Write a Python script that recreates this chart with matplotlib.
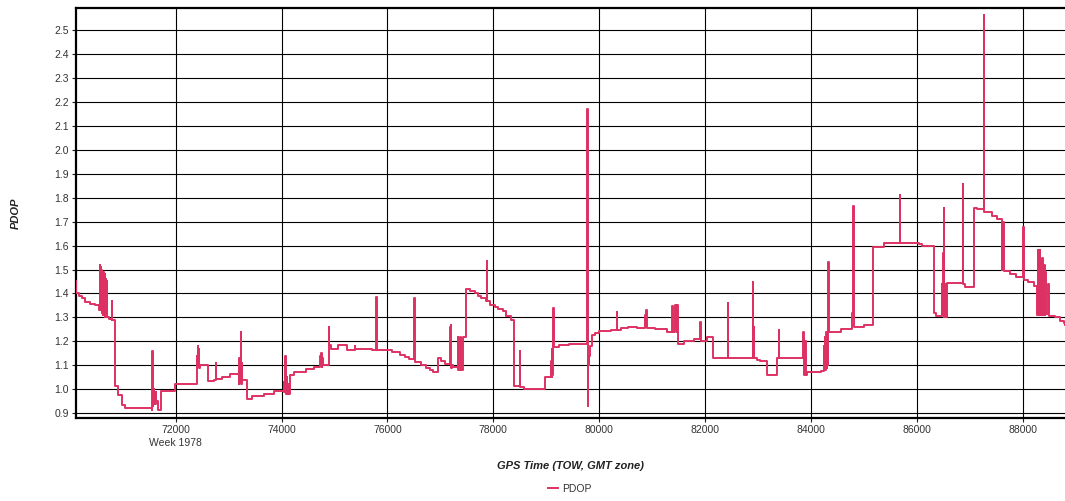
import matplotlib
matplotlib.use("Agg")
import matplotlib.pyplot as plt
from matplotlib.ticker import FixedLocator

plt.rcParams["font.family"] = ["Liberation Sans", "DejaVu Sans"]

# GPS time of week (s) and PDOP (step series)
TIME = [
    70117, 70125, 70180, 70230, 70293, 70382, 70482, 70545,
    70558, 70566, 70574, 70580, 70588, 70594, 70602, 70608, 70616, 70622,
    70630, 70636, 70644, 70650, 70658, 70664, 70672, 70680, 70690, 70700,
    70708, 70716, 70747, 70790, 70797, 70806, 70854, 70917, 70980, 71043,
    71553, 71560, 71566, 71572, 71578, 71585, 71597, 71629, 71636, 71660,
    71724, 71994, 72400, 72410, 72418, 72428, 72436, 72446, 72462, 72620,
    72715, 72760, 72770, 72874, 73032, 73190, 73200, 73210, 73220, 73228,
    73236, 73245, 73253, 73348, 73443, 73665, 73855, 74045, 74055, 74070,
    74080, 74095, 74105, 74120, 74135, 74159, 74235, 74456, 74614, 74735,
    74742, 74750, 74758, 74768, 74776, 74792, 74890, 74905, 74931, 75057,
    75235, 75385, 75395, 75486, 75705, 75787, 75797, 75988, 76082, 76238,
    76332, 76400, 76500, 76506, 76514, 76522, 76530, 76639, 76734, 76797,
    76860, 76954, 77017, 77080, 77187, 77195, 77202, 77210, 77220, 77230,
    77332, 77340, 77380, 77388, 77426, 77489, 77552, 77646, 77709, 77772,
    77867, 77879, 77889, 77930, 78024, 78087, 78181, 78244, 78339, 78389,
    78500, 78510, 78572, 78968, 79094, 79102, 79110, 79118, 79126, 79134,
    79144, 79242, 79433, 79775, 79786, 79796, 79806, 79816, 79830, 79870,
    79930, 80006, 80229, 80335, 80345, 80420, 80548, 80707, 80870, 80880,
    80888, 80896, 81057, 81280, 81376, 81386, 81440, 81448, 81458, 81466,
    81478, 81490, 81510, 81599, 81790, 81912, 81922, 82045, 82159, 82433,
    82443, 82905, 82915, 82920, 82928, 82974, 83037, 83163, 83352, 83396,
    83406, 83855, 83862, 83870, 83878, 83890, 83898, 83918, 84182, 84245,
    84255, 84265, 84275, 84285, 84295, 84305, 84315, 84325, 84340, 84560,
    84785, 84795, 84805, 85001, 85177, 85379, 85383, 85680, 85690, 86038,
    86090, 86320, 86370, 86477, 86485, 86497, 86505, 86510, 86520, 86530,
    86540, 86550, 86560, 86571, 86868, 86878, 86920, 87072, 87135, 87262,
    87272, 87417, 87511, 87605, 87610, 87618, 87626, 87634, 87642, 87649,
    87762, 87875, 88008, 88018, 88107, 88213, 88276, 88285, 88295, 88305,
    88315, 88325, 88335, 88345, 88355, 88365, 88375, 88385, 88400, 88410,
    88420, 88430, 88439, 88475, 88490, 88608, 88702, 88780, 88800,
]
PDOP = [
    1.45, 1.40, 1.39, 1.38, 1.366, 1.356, 1.352, 1.345,
    1.33, 1.52, 1.34, 1.51, 1.33, 1.50, 1.32, 1.49, 1.33, 1.48,
    1.31, 1.49, 1.32, 1.47, 1.30, 1.48, 1.31, 1.46, 1.30, 1.45,
    1.30, 1.30, 1.292, 1.29, 1.37, 1.289, 1.015, 0.976, 0.935, 0.923,
    0.912, 1.16, 0.93, 1.15, 0.95, 1.0, 0.94, 0.99, 0.95, 0.914,
    0.994, 1.022, 1.14, 1.10, 1.18, 1.12, 1.17, 1.09, 1.10, 1.034,
    1.04, 1.11, 1.041, 1.052, 1.063, 1.02, 1.13, 1.03, 1.10, 1.24,
    1.02, 1.11, 1.04, 0.96, 0.972, 0.982, 0.993, 1.03, 0.99, 1.14,
    0.98, 1.05, 0.98, 1.02, 0.98, 1.059, 1.07, 1.084, 1.094, 1.14,
    1.10, 1.15, 1.095, 1.13, 1.10, 1.10, 1.26, 1.185, 1.17, 1.185,
    1.165, 1.18, 1.167, 1.17, 1.165, 1.385, 1.165, 1.163, 1.155, 1.145,
    1.135, 1.127, 1.24, 1.38, 1.12, 1.25, 1.113, 1.10, 1.09, 1.081,
    1.072, 1.13, 1.12, 1.106, 1.26, 1.10, 1.27, 1.09, 1.10, 1.092,
    1.22, 1.08, 1.22, 1.08, 1.22, 1.42, 1.41, 1.40, 1.39, 1.38,
    1.37, 1.537, 1.37, 1.352, 1.345, 1.335, 1.325, 1.307, 1.289, 1.012,
    1.16, 1.01, 1.00, 1.051, 1.12, 1.05, 1.17, 1.06, 1.18, 1.338,
    1.178, 1.183, 1.19, 2.17, 0.93, 1.14, 1.10, 1.14, 1.18, 1.225,
    1.235, 1.243, 1.249, 1.322, 1.249, 1.254, 1.261, 1.255, 1.31, 1.26,
    1.33, 1.255, 1.25, 1.239, 1.349, 1.24, 1.353, 1.25, 1.35, 1.24,
    1.35, 1.19, 1.187, 1.20, 1.208, 1.28, 1.20, 1.22, 1.13, 1.36,
    1.13, 1.448, 1.13, 1.26, 1.13, 1.124, 1.12, 1.06, 1.13, 1.247,
    1.13, 1.24, 1.06, 1.22, 1.06, 1.20, 1.06, 1.071, 1.075, 1.18,
    1.08, 1.22, 1.08, 1.24, 1.09, 1.24, 1.10, 1.53, 1.24, 1.251,
    1.32, 1.767, 1.262, 1.269, 1.594, 1.603, 1.612, 1.811, 1.612, 1.605,
    1.60, 1.317, 1.307, 1.44, 1.31, 1.57, 1.30, 1.758, 1.31, 1.44,
    1.30, 1.44, 1.30, 1.443, 1.858, 1.44, 1.425, 1.758, 1.752, 2.562,
    1.742, 1.724, 1.71, 1.703, 1.50, 1.70, 1.50, 1.70, 1.50, 1.494,
    1.48, 1.467, 1.678, 1.455, 1.446, 1.432, 1.31, 1.58, 1.32, 1.57,
    1.31, 1.58, 1.33, 1.53, 1.31, 1.55, 1.31, 1.50, 1.32, 1.52,
    1.31, 1.49, 1.314, 1.44, 1.305, 1.30, 1.283, 1.277, 1.27,
]

X_TICKS = [72000, 74000, 76000, 78000, 80000, 82000, 84000, 86000, 88000]
X_LABELS = ["72000\nWeek 1978", "74000", "76000", "78000", "80000",
            "82000", "84000", "86000", "88000"]
Y_TICKS = [0.9, 1.0, 1.1, 1.2, 1.3, 1.4, 1.5, 1.6, 1.7, 1.8, 1.9,
           2.0, 2.1, 2.2, 2.3, 2.4, 2.5]

LINE_COLOR = "#DE3163"

fig = plt.figure(figsize=(10.65, 5.01), dpi=100)
ax = fig.add_axes([76 / 1065, 1 - 418 / 501, 1 - 76 / 1065, 410 / 501])

ax.plot(TIME, PDOP, drawstyle="steps-post", color=LINE_COLOR, lw=1.4,
        label="PDOP", zorder=3)

ax.set_xlim(70117, 88800)
ax.set_ylim(0.88, 2.592)

ax.xaxis.set_major_locator(FixedLocator(X_TICKS))
ax.set_xticklabels(X_LABELS, fontsize=7.5, color="#333333", linespacing=1.4)
ax.yaxis.set_major_locator(FixedLocator(Y_TICKS))
ax.set_yticklabels([f"{v:.1f}" for v in Y_TICKS], fontsize=7.5, color="#333333")
ax.tick_params(axis="both", direction="out", length=3, width=0.8, pad=2,
               color="#222222")

ax.grid(True, color="black", lw=0.8, zorder=1)
ax.set_axisbelow(True)

for side in ["top", "left", "bottom"]:
    ax.spines[side].set_linewidth(1.6)
    ax.spines[side].set_color("black")
ax.spines["right"].set_visible(False)

ax.set_xlabel("GPS Time (TOW, GMT zone)", fontsize=8, fontweight="bold",
              fontstyle="italic", color="#222222", labelpad=9)
ax.set_ylabel("PDOP", fontsize=8, fontweight="bold", fontstyle="italic",
              color="#222222", labelpad=24)

fig.legend(loc="lower center", bbox_to_anchor=(0.535, -0.005), frameon=False,
           fontsize=7.5, handlelength=1.0, handletextpad=0.4,
           labelcolor="#333333")

fig.savefig("out.png", dpi=100)
